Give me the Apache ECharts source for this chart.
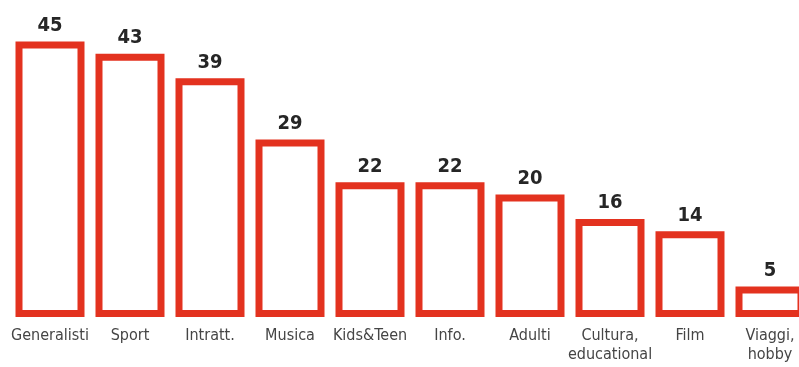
<!DOCTYPE html>
<html>
<head>
<meta charset="utf-8">
<script src="https://cdn.jsdelivr.net/npm/echarts@6/dist/echarts.min.js"></script>
<style>
  html, body { margin: 0; padding: 0; background: #fff; }
  #chart { width: 799px; height: 367px; }
</style>
</head>
<body>
<div id="chart"></div>
<script>
// categorie e valori
var categories = ['Generalisti', 'Sport', 'Intratt.', 'Musica', 'Kids&Teen', 'Info.', 'Adulti', 'Cultura,\neducational', 'Film', 'Viaggi,\nhobby'];
var values = [45, 43, 39, 29, 22, 22, 20, 16, 14, 5];

var chart = echarts.init(document.getElementById('chart'));
var option = {
  backgroundColor: '#fff',
  animation: false,
  grid: { left: 10, top: 11, bottom: 50, width: 800, outerBoundsMode: 'none' },
  xAxis: {
    type: 'category',
    data: categories,
    axisLine: { show: false },
    axisTick: { show: false },
    axisLabel: {
      interval: 0,
      margin: 9,
      color: '#454545',
      fontSize: 16,
      lineHeight: 19,
      fontFamily: "'Liberation Sans Narrow', 'DejaVu Sans Condensed', sans-serif"
    }
  },
  yAxis: {
    type: 'value',
    min: 0,
    max: 50,
    show: false,
    splitLine: { show: false }
  },
  series: [{
    type: 'bar',
    data: values,
    barWidth: 69,
    itemStyle: {
      color: '#fff',
      borderColor: '#e3321f',
      borderWidth: 7
    },
    label: {
      show: true,
      position: 'top',
      distance: 6,
      color: '#262626',
      fontSize: 20,
      fontWeight: 'bold',
      fontFamily: "'DejaVu Sans Condensed', 'Liberation Sans Narrow', sans-serif"
    }
  }]
};
chart.setOption(option);
</script>
</body>
</html>
